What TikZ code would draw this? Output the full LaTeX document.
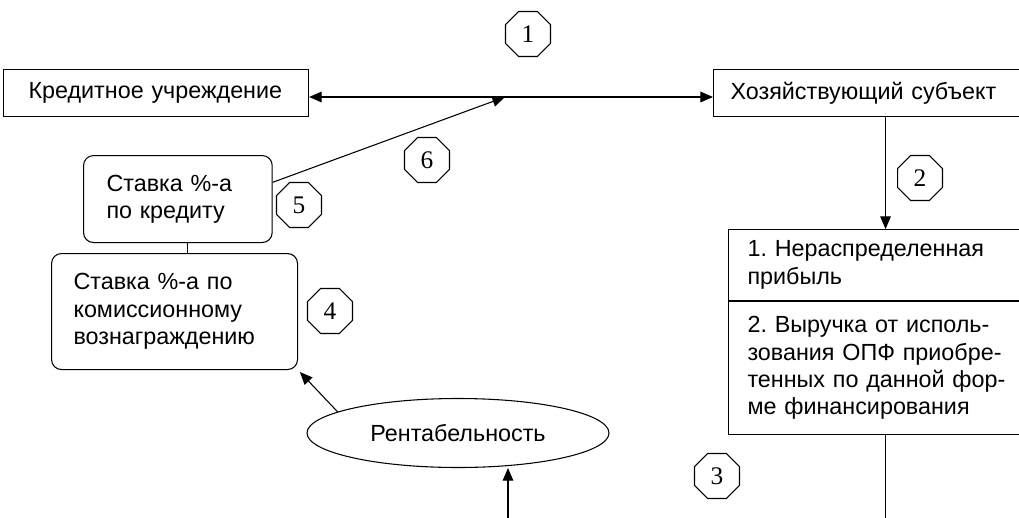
\documentclass[tikz,border=0pt]{standalone}
\usepackage{fontspec}
\setmainfont{Liberation Sans}
\newfontfamily\numfont{Liberation Serif}
\frenchspacing
\usetikzlibrary{arrows.meta,shapes.geometric,positioning}
\tikzset{octo/.style={regular polygon, regular polygon sides=8, draw=black, minimum size=36.5pt,
inner sep=0pt, font=\numfont\fontsize{19}{19}\selectfont},
sqbox/.style={draw=black, anchor=north west, align=left, inner ysep=0pt, font=\fontsize{17.5}{20.5}\selectfont},
rndbox/.style={sqbox, rounded corners=7.5pt}}

\begin{document}
\begin{tikzpicture}[x=0.75pt, y=-0.75pt, >={Triangle[length=9.5pt,width=8pt]}, line width=0.8pt]

    \useasboundingbox (0,0) rectangle (1019,517);

% the two partners

    \node[sqbox, minimum height=35.25pt, inner xsep=18.75pt, text width=191.25pt] (kred) at (3,69) {Кредитное учреждение};
    \node[sqbox, minimum height=35.25pt, inner xsep=12.75pt, text width=215pt] (hoz) at (713,69) {Хозяйствующий субъект};
    \coordinate (hub) at (505,97);

% the sources

    \node[sqbox, minimum height=53.25pt, inner xsep=14.25pt, text width=207pt] (src1) at (728,229)
    {1. Нераспределенная\\прибыль};
    \node[sqbox, minimum height=99.75pt, inner xsep=14.25pt, text width=207pt] (src2) at (src1.south west)
    {2. Выручка от исполь-\\зования ОПФ приобре-\\тенных по данной фор-\\ме финансирования};
    \coordinate (srcend) at (885,520);

% the rates

    \node[rndbox, minimum height=65.25pt, inner xsep=17.25pt, text width=107pt] (rate5) at (83,155)
    {Ставка \%-а\\по кредиту};
    \node[rndbox, minimum height=87pt, inner xsep=16.5pt, text width=151.5pt] (fee4) at (51,253)
    {Ставка \%-а по\\комиссионному\\вознаграждению};
    \node[ellipse, draw=black, minimum width=226.5pt, minimum height=51.75pt, inner sep=0pt,
    font=\fontsize{17.5}{20.5}\selectfont] (rent) at (458,433) {Рентабельность};
    \coordinate (rentin) at (508,520);

% the links

    \draw[<->] (kred.east |- hub) -- (hoz.west |- hub);
    \draw[->] (rate5.10) -- (hub);
    \draw[->] (src1.north |- hoz.south) -- (src1.north);
    \draw (src2.south) -- (src2.south |- srcend);
    \draw[->] (rentin) -- (rentin |- rent.south);
    \draw[->, shorten >=2pt] (rent.170) -- (fee4.south east);
    \draw ([xshift=7pt]rate5.south) -- ([xshift=7pt]rate5.south |- fee4.north);

% the steps

    \node[octo] (n1) at (528,34) {1};
    \node[octo] (n2) at (920,178) {2};
    \node[octo] (n3) at (717,476) {3};
    \node[octo] (n4) at (330,311) {4};
    \node[octo] (n5) at (299,205) {5};
    \node[octo] (n6) at (427,160) {6};

\end{tikzpicture}
\end{document}
